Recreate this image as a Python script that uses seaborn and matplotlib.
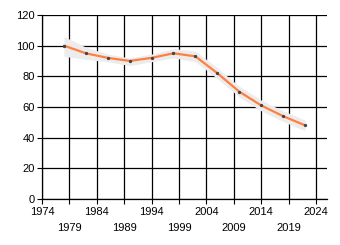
import matplotlib
matplotlib.use("Agg")
import matplotlib.pyplot as plt
import seaborn as sns
import pandas as pd

years = [1978, 1982, 1986, 1990, 1994, 1998, 2002, 2006, 2010, 2014, 2018, 2022]
values = [100, 95, 92, 90, 92, 95, 93, 82, 70, 61, 54, 48]
band_low = [93, 91, 89.5, 87, 89.5, 92, 89.5, 78.5, 66.5, 57.5, 50.5, 44.5]
band_high = [106, 99, 94.5, 92, 94.5, 98, 96.5, 85.5, 73.5, 64.5, 57.5, 51.5]
major_ticks = [1974, 1984, 1994, 2004, 2014, 2024]
minor_ticks = [1979, 1989, 1999, 2009, 2019]
y_ticks = [0, 20, 40, 60, 80, 100, 120]

sns.set_style("white")
plt.rcParams['font.family'] = ['Liberation Sans', 'DejaVu Sans']

df = pd.DataFrame({"year": years, "value": values})

fig = plt.figure(figsize=(3.4, 2.45), dpi=100)
ax = fig.add_axes([0.1235, 0.188, 0.838, 0.751])

ax.fill_between(years, band_low, band_high, color="#ececec", linewidth=0, zorder=2)
sns.lineplot(data=df, x="year", y="value", ax=ax, color="#ff7f3f", linewidth=1.6,
             marker="o", markersize=1.6, markerfacecolor="#444444",
             markeredgecolor="#444444", zorder=3)

ax.set_xlim(1974, 2026)
ax.set_ylim(0, 120)
ax.set_xticks(major_ticks)
ax.set_xticklabels([str(t) for t in major_ticks])
ax.set_xticks(minor_ticks, minor=True)
ax.set_xticklabels([str(t) for t in minor_ticks], minor=True)
ax.set_yticks(y_ticks)
ax.set_yticklabels([str(t) for t in y_ticks])

ax.tick_params(axis="x", which="major", length=3.5, width=0.8, color="black",
               labelsize=8, labelcolor="black", pad=2, direction="out", bottom=True)
ax.tick_params(axis="x", which="minor", length=3.5, width=0.8, color="black",
               labelsize=8, labelcolor="black", pad=13.5, direction="out", bottom=True)
ax.tick_params(axis="y", length=3.5, width=0.8, color="black", labelsize=8,
               labelcolor="black", pad=1.5, direction="out", left=True)

for t in major_ticks + minor_ticks:
    ax.axvline(t, color="black", linewidth=0.9, zorder=1)
for t in y_ticks:
    ax.axhline(t, color="black", linewidth=0.9, zorder=1)

ax.set_xlabel("")
ax.set_ylabel("")
for s in ["top", "right"]:
    ax.spines[s].set_visible(False)
for s in ["left", "bottom"]:
    ax.spines[s].set_color("black")
    ax.spines[s].set_linewidth(0.9)

fig.savefig("out.png", dpi=100)
